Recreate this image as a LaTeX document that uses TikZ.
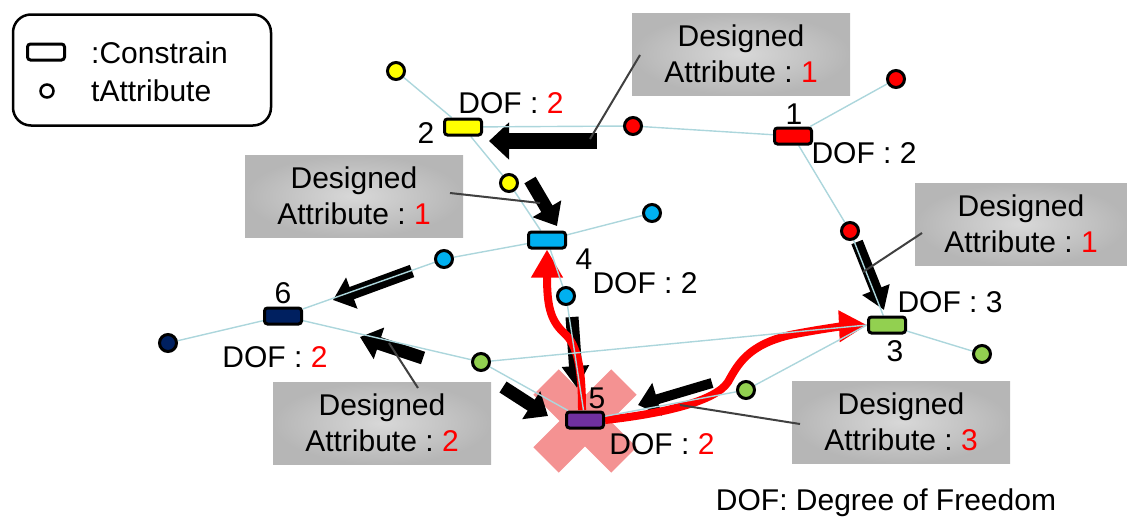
\documentclass[tikz,border=0pt]{standalone}
\usepackage{fontspec}
\setmainfont{Liberation Sans}
\usetikzlibrary{arrows.meta}

\definecolor{linkblue}{RGB}{172,214,220}
\definecolor{cyellow}{RGB}{255,255,0}
\definecolor{cred}{RGB}{255,0,0}
\definecolor{cblue}{RGB}{0,176,240}
\definecolor{cnavy}{RGB}{0,32,96}
\definecolor{cgreen}{RGB}{146,208,80}
\definecolor{cpurple}{RGB}{112,48,160}
\definecolor{crosspink}{RGB}{244,146,146}
\definecolor{boxin}{RGB}{216,216,216}
\definecolor{boxout}{RGB}{182,182,182}

\pgfdeclarelayer{back}
\pgfdeclarelayer{mid}
\pgfsetlayers{back,mid,main}

\tikzset{
  every node/.style={font=\fontsize{30}{36}\selectfont, inner sep=1pt},
  constr/.style={draw, line width=3pt, rounded corners=3pt, minimum width=37pt, minimum height=16pt, inner sep=0pt},
  attr/.style={circle, draw, line width=3pt, minimum size=17pt, inner sep=0pt},
  link/.style={draw=linkblue, line width=1.4pt},
  blockarrow/.style={draw=black, line width=13pt, -{Triangle[length=20pt,width=32pt]}},
  redarrow/.style={draw=cred, line width=8pt, -{Triangle[length=28pt,width=30pt]}},
  pointer/.style={draw=black!75, line width=2pt},
  dbox/.style={rectangle, inner color=boxin, outer color=boxout, minimum height=82pt, align=center, inner sep=0pt}
}

\newcommand{\designbox}[4]{
\node [dbox, minimum width=#4] (#1) at (#2) {Designed\\Attribute\ :\ \textcolor{cred}{#3}};
}

\newcommand{\dropcross}[1]{
\begin{scope}[shift={(#1)}]
\fill [crosspink, rotate=45] (-55,-18) rectangle (55,18);
\fill [crosspink, rotate=-45] (-55,-18) rectangle (55,18);
\end{scope}
}

\begin{document}
\begin{tikzpicture}[x=1pt,y=-1pt]
\useasboundingbox (0,0) rectangle (1127,520);

% legend
\node [draw, line width=2.5pt, rounded corners=18pt, minimum width=258pt, minimum height=111pt] (legend) at (142,70) {};
\node [constr] (legc) at (46,52) {};
\node [anchor=west] (legct) at (90,53) {:Constrain};
\node [attr, line width=2.5pt, minimum size=13pt] (lega) at (47,91) {};
\node [anchor=west] (legat) at (90,91) {tAttribute};

% constraints
\node [constr, fill=cred] (c1) at (793,136) {};
\node [constr, fill=cyellow] (c2) at (463,127) {};
\node [constr, fill=cgreen] (c3) at (887,325) {};
\node [constr, fill=cblue] (c4) at (547,240) {};
\node [constr, fill=cpurple] (c5) at (585,420) {};
\node [constr, fill=cnavy] (c6) at (283,316) {};

% attributes
\node [attr, fill=cyellow] (y1) at (396,71) {};
\node [attr, fill=cyellow] (y2) at (509,183) {};
\node [attr, fill=cred] (r1) at (633,126) {};
\node [attr, fill=cred] (r2) at (896,79) {};
\node [attr, fill=cred] (r3) at (850,231) {};
\node [attr, fill=cblue] (b1) at (652,213) {};
\node [attr, fill=cblue] (b2) at (444,259) {};
\node [attr, fill=cblue] (b3) at (566,296) {};
\node [attr, fill=cnavy] (n1) at (168,343) {};
\node [attr, fill=cgreen] (g1) at (481,362) {};
\node [attr, fill=cgreen] (g2) at (746,390) {};
\node [attr, fill=cgreen] (g3) at (982,354) {};

% labels
\node (l1) at (794,114) {1};
\node (d1) at (864,153) {DOF\ :\ 2};
\node (l2) at (426,133) {2};
\node (d2) at (511,103) {DOF\ :\ \textcolor{cred}{2}};
\node (l3) at (895,351) {3};
\node (d3) at (950,302) {DOF\ :\ 3};
\node (l4) at (584,259) {4};
\node (d4) at (645,283) {DOF\ :\ 2};
\node (l5) at (597,398) {5};
\node (d5) at (662,444) {DOF\ :\ \textcolor{cred}{2}};
\node (l6) at (283,293) {6};
\node (d6) at (275,357) {DOF\ :\ \textcolor{cred}{2}};
\node (note) at (886,503) {DOF: Degree of Freedom};

% designed attributes
\designbox{boxa}{741,54}{1}{218pt}
\designbox{boxb}{354,196}{1}{218pt}
\designbox{boxc}{1021,224}{1}{212pt}
\designbox{boxd}{382,423}{2}{218pt}
\designbox{boxe}{901,422}{3}{218pt}

\path (640,55) coordinate (pa1);
\path (590,139) coordinate (pa2);
\path (450,193) coordinate (pb1);
\path (540,203) coordinate (pb2);
\path (922,233) coordinate (pc1);
\path (863,272) coordinate (pc2);
\path (418,388) coordinate (pd1);
\path (389,343) coordinate (pd2);
\path (800,424) coordinate (pe1);
\path (680,405) coordinate (pe2);
\draw [pointer] (pa1) -- (pa2);
\draw [pointer] (pb1) -- (pb2);
\draw [pointer] (pc1) -- (pc2);
\draw [pointer] (pd1) -- (pd2);
\draw [pointer] (pe1) -- (pe2);

\begin{pgfonlayer}{mid}
\draw [link] (y1) -- (c2) -- (y2) -- (c4);
\draw [link] (c2) -- (r1) -- (c1) -- (r2);
\draw [link] (c1) -- (r3) -- (c3) -- (g3);
\draw [link] (c4) -- (b1);
\draw [link] (c4) -- (b2) -- (c6) -- (n1);
\draw [link] (c4) -- (b3) -- (c5);
\draw [link] (c6) -- (g1) -- (c3.west);
\draw [link] (g1) -- (c5) -- (g2) -- (c3.west);
\end{pgfonlayer}

\begin{pgfonlayer}{back}
\dropcross{585,421}

\path (597,141) coordinate (a1s);
\path (489,141) coordinate (a1e);
\path (530,180) coordinate (a2s);
\path (557,226) coordinate (a2e);
\path (412,271) coordinate (a3s);
\path (333,300) coordinate (a3e);
\path (423,358) coordinate (a4s);
\path (360,337) coordinate (a4e);
\path (503,387) coordinate (a5s);
\path (548,416) coordinate (a5e);
\path (572,317) coordinate (a6s);
\path (577,388) coordinate (a6e);
\path (857,242) coordinate (a7s);
\path (884,310) coordinate (a7e);
\path (712,383) coordinate (a8s);
\path (638,405) coordinate (a8e);
\draw [blockarrow, line width=16pt, -{Triangle[length=20pt,width=36pt]}] (a1s) -- (a1e);
\draw [blockarrow] (a2s) -- (a2e);
\draw [blockarrow] (a3s) -- (a3e);
\draw [blockarrow] (a4s) -- (a4e);
\draw [blockarrow] (a5s) -- (a5e);
\draw [blockarrow, -{Triangle[length=22pt,width=26pt]}] (a6s) -- (a6e);
\draw [blockarrow, line width=12pt, -{Triangle[length=22pt,width=28pt]}] (a7s) -- (a7e);
\draw [blockarrow, line width=10pt, -{Triangle[length=20pt,width=33pt]}] (a8s) -- (a8e);

\draw [redarrow] (582,410) .. controls (582,370) and (578,345) .. (564,333) .. controls (550,320) and (547,305) .. (c4.south);
\draw [redarrow] (c5.east) .. controls (660,414) and (715,402) .. (728,382) .. controls (738,364) and (748,345) .. (790,335) .. controls (820,329) and (845,326) .. (c3.west);
\end{pgfonlayer}

\end{tikzpicture}
\end{document}
